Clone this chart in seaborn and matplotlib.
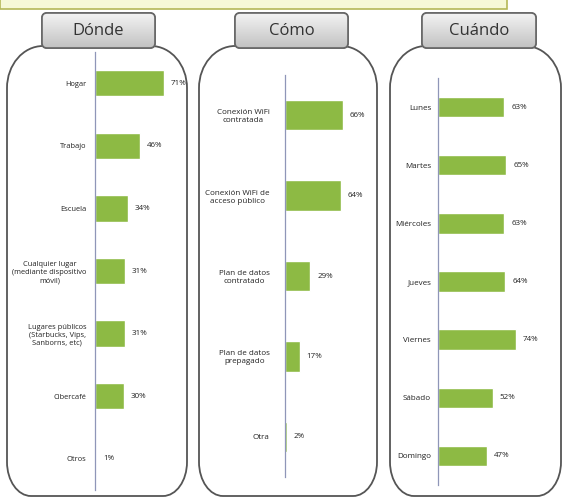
import numpy as np
import matplotlib.pyplot as plt
from matplotlib.patches import FancyBboxPatch, PathPatch, Rectangle
from matplotlib.path import Path
import seaborn as sns

# data
donde_labels = ["Hogar", "Trabajo", "Escuela",
                "Cualquier lugar\n(mediante dispositivo\nmóvil)",
                "Lugares públicos\n(Starbucks, Vips,\nSanborns, etc)",
                "Cibercafé", "Otros"]
donde_values = [71, 46, 34, 31, 31, 30, 1]

como_labels = ["Conexión WiFi\ncontratada", "Conexión WiFi de\nacceso público",
               "Plan de datos\ncontratado", "Plan de datos\nprepagado", "Otra"]
como_values = [66, 64, 29, 17, 2]

cuando_labels = ["Lunes", "Martes", "Miércoles", "Jueves", "Viernes", "Sábado", "Domingo"]
cuando_values = [63, 65, 63, 64, 74, 52, 47]

titles = ["Dónde", "Cómo", "Cuándo"]

W, H = 563, 497
green = "#8dba44"

sns.set_style("white")
plt.rcParams["font.family"] = ["Open Sans", "DejaVu Sans"]

fig = plt.figure(figsize=(W / 100, H / 100), dpi=100)

# background layer in pixel coords (y down) for the boxes and tabs
bg = fig.add_axes([0, 0, 1, 1])
bg.set_xlim(0, W)
bg.set_ylim(H, 0)
bg.axis("off")

# yellow strip at the top
bg.add_patch(Rectangle((0, -2), 507, 11, facecolor="#f6f8d6", edgecolor="#b5b857", lw=1.2))


def panel_path(x0, x1, yt, yb, rxt, ryt, rxb, ryb):
    k = 0.5523
    verts = [
        (x0 + rxt, yt), (x1 - rxt, yt),
        (x1 - rxt + k * rxt, yt), (x1, yt + ryt - k * ryt), (x1, yt + ryt),
        (x1, yb - ryb),
        (x1, yb - ryb + k * ryb), (x1 - rxb + k * rxb, yb), (x1 - rxb, yb),
        (x0 + rxb, yb),
        (x0 + rxb - k * rxb, yb), (x0, yb - ryb + k * ryb), (x0, yb - ryb),
        (x0, yt + ryt),
        (x0, yt + ryt - k * ryt), (x0 + rxt - k * rxt, yt), (x0 + rxt, yt),
        (x0 + rxt, yt),
    ]
    codes = [Path.MOVETO, Path.LINETO,
             Path.CURVE4, Path.CURVE4, Path.CURVE4,
             Path.LINETO,
             Path.CURVE4, Path.CURVE4, Path.CURVE4,
             Path.LINETO,
             Path.CURVE4, Path.CURVE4, Path.CURVE4,
             Path.LINETO,
             Path.CURVE4, Path.CURVE4, Path.CURVE4,
             Path.CLOSEPOLY]
    return Path(verts, codes)


panels = [(7, 187), (199, 377), (390, 561)]
tabs = [(42, 155), (235, 348), (422, 536)]
grad = np.linspace(0.95, 0.76, 50).reshape(-1, 1)

for (x0, x1), (t0, t1), title in zip(panels, tabs, titles):
    bg.add_patch(PathPatch(panel_path(x0, x1, 46, 496, 36, 42, 24, 34),
                           facecolor="white", edgecolor="#555555", lw=1.3))
    tab = FancyBboxPatch((t0, 13), t1 - t0, 35, boxstyle="round,pad=0,rounding_size=5",
                         facecolor="#dcdcdc", edgecolor="#666666", lw=1.2, zorder=3)
    bg.add_patch(tab)
    im = bg.imshow(grad, extent=(t0, t1, 48, 13), cmap="gray", vmin=0, vmax=1,
                   aspect="auto", zorder=3.5)
    im.set_clip_path(tab)
    edge = FancyBboxPatch((t0, 13), t1 - t0, 35, boxstyle="round,pad=0,rounding_size=5",
                          facecolor="none", edgecolor="#666666", lw=1.2, zorder=4)
    bg.add_patch(edge)
    bg.text((t0 + t1) / 2, 31, title, ha="center", va="center", fontsize=12,
            color="#333333", zorder=5)

bg.set_xlim(0, W)
bg.set_ylim(H, 0)

# bar axes: (axis x, top, bottom, width px, px per %, bar width, label pad, font size)
specs = [
    (donde_labels, donde_values, 95, 52, 490, 85, 0.97, 0.42, 6, 5.4),
    (como_labels, como_values, 285, 75, 477, 75, 0.875, 0.38, 11, 5.8),
    (cuando_labels, cuando_values, 438, 78, 485, 95, 1.05, 0.35, 5, 5.8),
]

for labels, values, x0, top, bottom, wpx, scale, bw, pad, fs in specs:
    ax = fig.add_axes([x0 / W, 1 - bottom / H, wpx / W, (bottom - top) / H])
    ax.patch.set_alpha(0)
    sns.barplot(x=values, y=labels, orient="h", color=green, width=bw,
                saturation=1, ax=ax)
    n = len(labels)
    ax.set_xlim(0, wpx / scale)
    ax.set_ylim(n - 0.5, -0.5)
    ax.set_xticks([])
    ax.set_xlabel("")
    ax.set_ylabel("")
    for s in ["top", "right", "bottom"]:
        ax.spines[s].set_visible(False)
    ax.spines["left"].set_color("#8f96b8")
    ax.spines["left"].set_linewidth(0.9)
    ax.set_yticks(np.arange(n + 1) - 0.5, minor=True)
    ax.tick_params(axis="y", which="major", length=0, pad=pad, labelsize=fs,
                   labelcolor="#222222")
    ax.tick_params(axis="y", which="minor", length=3, color="#999999", width=0.8)
    for lbl in ax.get_yticklabels():
        lbl.set_multialignment("center")
    ax.bar_label(ax.containers[0], labels=[f"{v}%" for v in values], padding=5,
                 fontsize=5.8, color="#222222")

fig.savefig("out.png", dpi=100)
